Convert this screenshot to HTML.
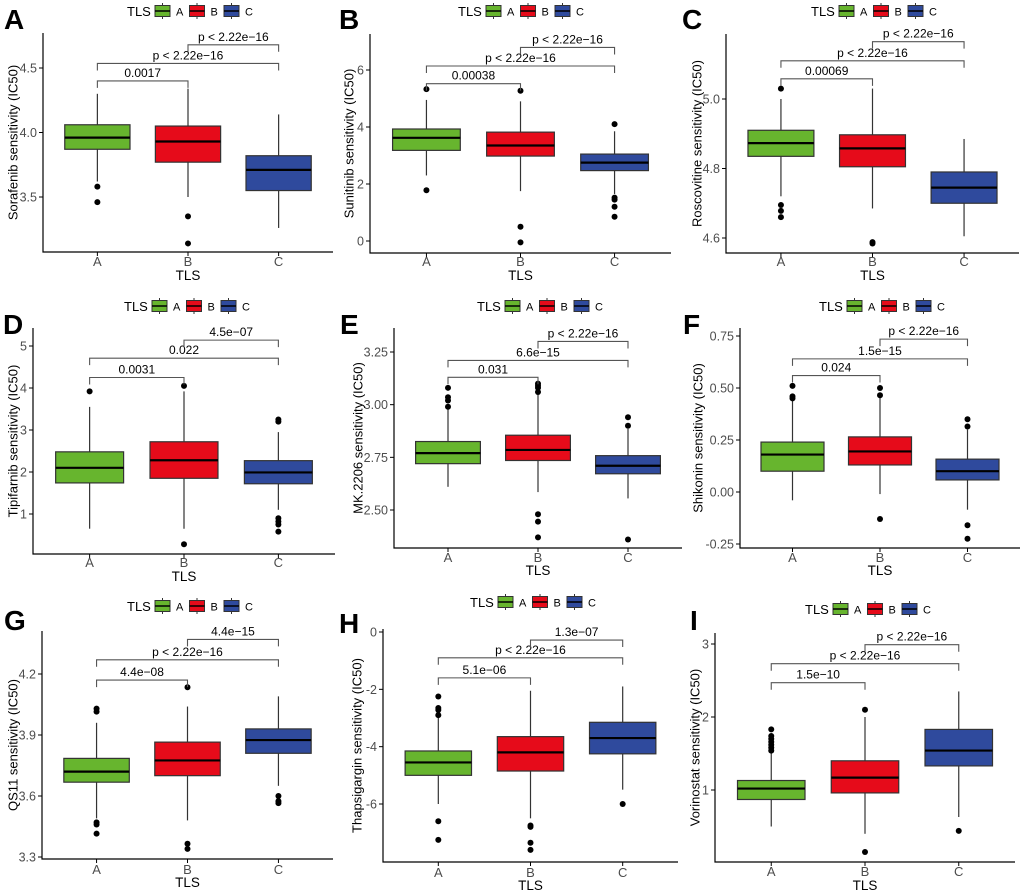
<!DOCTYPE html>
<html><head><meta charset="utf-8">
<style>
body{margin:0;background:#fff;}
svg{display:block;font-family:"Liberation Sans",Arial,sans-serif;}
</style></head>
<body>
<svg id="fig" width="1020" height="894" viewBox="0 0 1020 894" xmlns="http://www.w3.org/2000/svg"></svg>
<script>
// ---- data ----
const groups = ["A","B","C"];
const pairLabelsOrder = ["A-B","A-C","B-C"];
// stats: [lowWhisker, q1, median, q3, highWhisker]
const statsA = [[3.62,3.87,3.96,4.06,4.30],[3.50,3.77,3.93,4.05,4.34],[3.26,3.55,3.71,3.82,4.14]];
const outA = [[3.58,3.46],[3.35,3.14],[]];
const ticksA = [3.5,4.0,4.5];
const tickLabA = ["3.5","4.0","4.5"];
const pvA = ["0.0017","p < 2.22e\u221216","p < 2.22e\u221216"];
const brA = [4.40,4.535,4.68];

const statsB = [[2.3,3.18,3.62,3.93,4.95],[1.75,2.98,3.35,3.82,4.9],[1.65,2.47,2.75,3.05,3.85]];
const outB = [[5.33,1.78],[5.27,0.5,-0.05],[4.1,1.52,1.45,1.2,0.85]];
const ticksB = [0,2,4,6];
const tickLabB = ["0","2","4","6"];
const pvB = ["0.00038","p < 2.22e\u221216","p < 2.22e\u221216"];
const brB = [5.52,6.14,6.79];

const statsC = [[4.72,4.835,4.873,4.91,5.0],[4.685,4.805,4.858,4.897,5.03],[4.605,4.70,4.745,4.79,4.885]];
const outC = [[5.03,4.695,4.678,4.66],[4.588,4.584],[]];
const ticksC = [4.6,4.8,5.0];
const tickLabC = ["4.6","4.8","5.0"];
const pvC = ["0.00069","p < 2.22e\u221216","p < 2.22e\u221216"];
const brC = [5.058,5.11,5.165];

const statsD = [[0.65,1.74,2.1,2.48,3.55],[0.65,1.85,2.28,2.72,3.92],[1.1,1.72,1.99,2.27,2.95]];
const outD = [[3.92],[4.05,0.28],[3.25,3.2,0.9,0.82,0.75,0.58]];
const ticksD = [1,2,3,4,5];
const tickLabD = ["1","2","3","4","5"];
const pvD = ["0.0031","0.022","4.5e\u221207"];
const brD = [4.25,4.71,5.14];

const statsE = [[2.61,2.72,2.77,2.825,2.98],[2.585,2.735,2.785,2.855,3.05],[2.555,2.672,2.71,2.758,2.885]];
const outE = [[3.08,3.035,3.02,2.99],[3.10,3.09,3.08,3.06,2.48,2.445,2.37],[2.94,2.90,2.36]];
const ticksE = [2.50,2.75,3.00,3.25];
const tickLabE = ["2.50","2.75","3.00","3.25"];
const pvE = ["0.031","6.6e\u221215","p < 2.22e\u221216"];
const brE = [3.13,3.21,3.30];

const statsF = [[-0.04,0.10,0.18,0.24,0.44],[-0.01,0.13,0.195,0.265,0.46],[-0.085,0.058,0.10,0.158,0.30]];
const outF = [[0.51,0.46,0.45],[0.50,0.465,-0.13],[0.35,0.315,-0.16,-0.225]];
const ticksF = [-0.25,0.00,0.25,0.50,0.75];
const tickLabF = ["-0.25","0.00","0.25","0.50","0.75"];
const pvF = ["0.024","1.5e\u221215","p < 2.22e\u221216"];
const brF = [0.56,0.64,0.735];

const statsG = [[3.49,3.668,3.72,3.785,3.96],[3.48,3.70,3.775,3.865,4.04],[3.65,3.81,3.875,3.93,4.09]];
const outG = [[4.03,4.015,3.47,3.46,3.415],[4.135,3.365,3.34],[3.60,3.575,3.565]];
const ticksG = [3.3,3.6,3.9,4.2];
const tickLabG = ["3.3","3.6","3.9","4.2"];
const pvG = ["4.4e\u221208","p < 2.22e\u221216","4.4e\u221215"];
const brG = [4.17,4.27,4.37];

const statsH = [[-6.0,-5.0,-4.55,-4.15,-2.95],[-6.5,-4.85,-4.2,-3.65,-2.05],[-5.5,-4.25,-3.7,-3.15,-1.9]];
const outH = [[-2.25,-2.65,-2.72,-2.9,-6.6,-7.25],[-6.8,-6.75,-7.35,-7.6],[-6.0]];
const ticksH = [-6,-4,-2,0];
const tickLabH = ["-6","-4","-2","0"];
const pvH = ["5.1e\u221206","p < 2.22e\u221216","1.3e\u221207"];
const brH = [-1.6,-0.9,-0.28];

const statsI = [[0.5,0.87,1.02,1.13,1.5],[0.4,0.96,1.17,1.4,2.0],[0.63,1.33,1.54,1.83,2.35]];
const outI = [[1.83,1.74,1.7,1.66,1.62,1.58,1.54],[2.1,0.15],[0.44]];
const ticksI = [1,2,3];
const tickLabI = ["1","2","3"];
const pvI = ["1.5e\u221210","p < 2.22e\u221216","p < 2.22e\u221216"];
const brI = [2.47,2.73,2.99];

// ---- layout (pixels) ----
const panels = [
 {id:"A",ttl:"Sorafenib sensitivity (IC50)",st:statsA,out:outA,tk:ticksA,tl:tickLabA,pv:pvA,br:brA,
  L:43,R:333,T:33,B:252,y0:3.5,p0:197,y1:4.5,p1:68,legY:11,legX:127,labX:4,labY:29,xlY:262,tlsY:276,ytX:13},
 {id:"B",ttl:"Sunitinib sensitivity (IC50)",st:statsB,out:outB,tk:ticksB,tl:tickLabB,pv:pvB,br:brB,
  L:370,R:671,T:34,B:253,y0:0,p0:241,y1:6,p1:70,legY:11,legX:458,labX:339,labY:29,xlY:262,tlsY:276,ytX:349},
 {id:"C",ttl:"Roscovitine sensitivity (IC50)",st:statsC,out:outC,tk:ticksC,tl:tickLabC,pv:pvC,br:brC,
  L:726,R:1019,T:34,B:253,y0:4.6,p0:238,y1:5.0,p1:99,legY:11,legX:811,labX:682,labY:29,xlY:262,tlsY:276,ytX:697},
 {id:"D",ttl:"Tipifarnib sensitivity (IC50)",st:statsD,out:outD,tk:ticksD,tl:tickLabD,pv:pvD,br:brD,
  L:33,R:335,T:328,B:554,y0:1,p0:514,y1:5,p1:346,legY:306,legX:124,labX:3,labY:334,xlY:563,tlsY:577,ytX:13},
 {id:"E",ttl:"MK.2206 sensitivity (IC50)",st:statsE,out:outE,tk:ticksE,tl:tickLabE,pv:pvE,br:brE,
  L:394,R:682,T:328,B:548,y0:2.5,p0:510,y1:3.25,p1:352,legY:306,legX:477,labX:340,labY:334,xlY:558,tlsY:571,ytX:358},
 {id:"F",ttl:"Shikonin sensitivity (IC50)",st:statsF,out:outF,tk:ticksF,tl:tickLabF,pv:pvF,br:brF,
  L:740,R:1020,T:328,B:548,y0:-0.25,p0:544,y1:0.75,p1:336,legY:306,legX:819,labX:683,labY:334,xlY:558,tlsY:571,ytX:698},
 {id:"G",ttl:"QS11 sensitivity (IC50)",st:statsG,out:outG,tk:ticksG,tl:tickLabG,pv:pvG,br:brG,
  L:42,R:333,T:631,B:859,y0:3.3,p0:857,y1:4.2,p1:674,legY:606,legX:127,labX:4,labY:630,xlY:870,tlsY:883,ytX:13},
 {id:"H",ttl:"Thapsigargin sensitivity (IC50)",st:statsH,out:outH,tk:ticksH,tl:tickLabH,pv:pvH,br:brH,
  L:383,R:678,T:629,B:862,y0:-6,p0:804,y1:0,p1:632,legY:602,legX:470,labX:339,labY:633,xlY:873,tlsY:886,ytX:357},
 {id:"I",ttl:"Vorinostat sensitivity (IC50)",st:statsI,out:outI,tk:ticksI,tl:tickLabI,pv:pvI,br:brI,
  L:715,R:1015,T:633,B:862,y0:1,p0:790,y1:3,p1:644,legY:609,legX:805,labX:690,labY:630,xlY:872,tlsY:886,ytX:695}
];
const fills = ["#67b52e","#e60b1a","#2f4a9d"];
const NS="http://www.w3.org/2000/svg";
const svg=document.getElementById("fig");
function mk(tag,attrs,parent){const e=document.createElementNS(NS,tag);for(const k in attrs)e.setAttribute(k,attrs[k]);(parent||svg).appendChild(e);return e;}

panels.forEach(p=>{
  const g=mk("g",{});
  
  
  const ys=v=>p.p0+(v-p.y0)*(p.p1-p.p0)/(p.y1-p.y0);
  const u=(p.R-p.L)/3.2;
  const xs=i=>p.L+(i+0.6)*u;
  const hw=0.36*u;
  // panel letter
  const lab=mk("text",{x:p.labX,y:p.labY,"font-size":28,"font-weight":"bold",fill:"#000"},g);
  lab.textContent=p.id;
  
  
  // legend
  const lg=mk("g",{},g);
  
  
  const lt=mk("text",{x:p.legX,y:p.legY+5,"font-size":13,fill:"#000"},lg);
  lt.textContent="TLS";
  groups.forEach((c,i)=>{
    const bx=p.legX+28+i*34.5;
    const ent=mk("g",{},lg);
    
    
    mk("line",{x1:bx+7.5,x2:bx+7.5,y1:p.legY-8,y2:p.legY+8,stroke:"#333","stroke-width":1},ent);
    mk("rect",{x:bx,y:p.legY-5.5,width:15,height:11,fill:fills[i],stroke:"#333","stroke-width":1},ent);
    mk("line",{x1:bx,x2:bx+15,y1:p.legY,y2:p.legY,stroke:"#000","stroke-width":1.5},ent);
    const t=mk("text",{x:bx+21,y:p.legY+4.5,"font-size":11,fill:"#000"},ent);
    t.textContent=c;
  });
  // axes
  const ax=mk("path",{d:`M${p.L},${p.T}V${p.B}H${p.R}`,fill:"none",stroke:"#000","stroke-width":1.2},g);
  
  
  p.tk.forEach((v,i)=>{
    const y=ys(v);
    mk("line",{x1:p.L-4,x2:p.L,y1:y,y2:y,stroke:"#000"},g);
    const t=mk("text",{x:p.L-6,y:y+4.5,"font-size":12.5,fill:"#4d4d4d","text-anchor":"end"},g);
    t.textContent=p.tl[i];
    
    
  });
  groups.forEach((c,i)=>{
    const x=xs(i);
    mk("line",{x1:x,x2:x,y1:p.B,y2:p.B+4,stroke:"#000"},g);
    const t=mk("text",{x:x,y:p.xlY+4,"font-size":13,fill:"#4d4d4d","text-anchor":"middle"},g);
    t.textContent=c;
    
    
  });
  const xt=mk("text",{x:xs(1),y:p.tlsY+4,"font-size":13.5,fill:"#000","text-anchor":"middle"},g);
  xt.textContent="TLS";
  
  
  const ym=(p.T+p.B)/2;
  const yt=mk("text",{x:p.ytX,y:ym,"font-size":13,fill:"#000","text-anchor":"middle",transform:`rotate(-90 ${p.ytX} ${ym})`,"dominant-baseline":"central"},g);
  yt.textContent=p.ttl;
  
  
  // boxes
  p.st.forEach((s,i)=>{
    const x=xs(i);
    const bg=mk("g",{},g);
    
    
    mk("line",{x1:x,x2:x,y1:ys(s[0]),y2:ys(s[4]),stroke:"#333","stroke-width":1.2},bg);
    mk("rect",{x:x-hw,y:ys(s[3]),width:2*hw,height:ys(s[1])-ys(s[3]),fill:fills[i],stroke:"#333","stroke-width":1.2},bg);
    mk("line",{x1:x-hw,x2:x+hw,y1:ys(s[2]),y2:ys(s[2]),stroke:"#000","stroke-width":2.2},bg);
    p.out[i].forEach(v=>{
      const o=mk("circle",{cx:x,cy:ys(v),r:3,fill:"#000"},bg);
      
      
    });
  });
  // brackets
  const pairs=[[0,1],[0,2],[1,2]];
  pairs.forEach((pr,k)=>{
    const y=ys(p.br[k]);
    const x1=xs(pr[0]),x2=xs(pr[1]);
    const b=mk("path",{d:`M${x1},${y+7}V${y}H${x2}V${y+7}`,fill:"none",stroke:"#555","stroke-width":1.1},g);
    
    
    const t=mk("text",{x:(x1+x2)/2,y:y-4,"font-size":12,fill:"#000","text-anchor":"middle"},g);
    t.textContent=p.pv[k];
    
    
  });
});
</script>
</body></html>
